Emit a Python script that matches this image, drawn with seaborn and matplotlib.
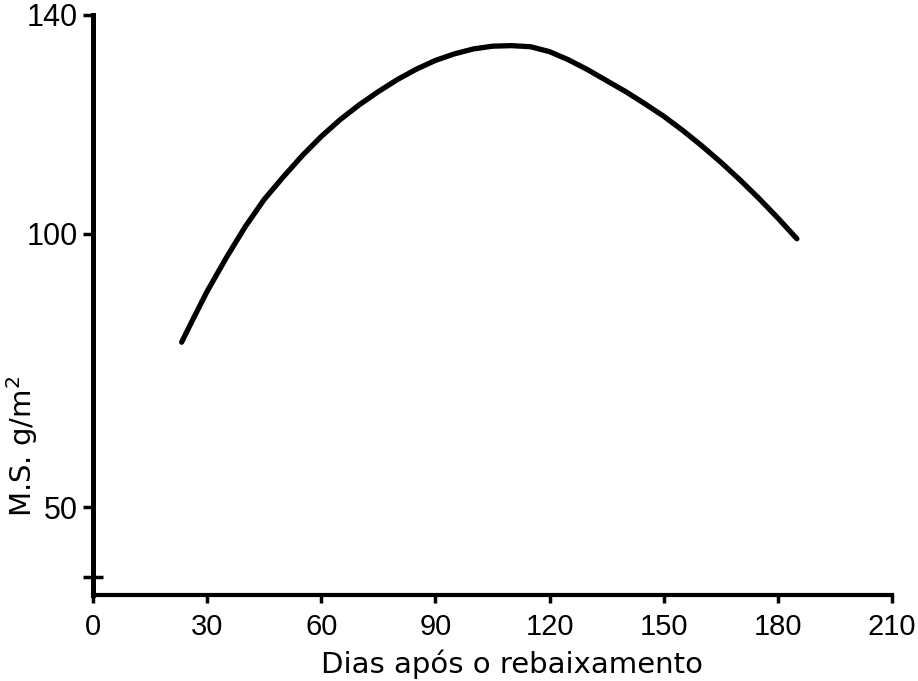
import matplotlib
matplotlib.use("Agg")
import matplotlib.pyplot as plt
import seaborn as sns
import pandas as pd

# Data
dias = [23.3, 26, 30, 35, 40, 45, 50, 55, 60, 65, 70, 75, 80, 85, 90, 95, 100, 105,
        110, 115, 120, 125, 130, 135, 140, 145, 150, 155, 160, 165, 170, 175, 180, 185]
ms = [80.2, 84.0, 89.5, 95.6, 101.3, 106.3, 110.4, 114.3, 117.8, 120.9, 123.6, 126.0,
      128.2, 130.1, 131.7, 132.9, 133.8, 134.3, 134.4, 134.2, 133.3, 131.8, 130.0,
      128.0, 126.0, 123.8, 121.5, 118.9, 116.1, 113.1, 109.9, 106.5, 102.9, 99.1]
x_ticks = [0, 30, 60, 90, 120, 150, 180, 210]
y_ticks = [50, 100, 140]

sns.set_theme(style="white")
plt.rcParams['font.family'] = ['Liberation Sans', 'DejaVu Sans']

df = pd.DataFrame({"dias": dias, "ms": ms})

fig = plt.figure(figsize=(9.18, 6.81), dpi=100)
ax = fig.add_axes([93/918, 1-595/681, (892-93)/918, (595-15)/681])

sns.lineplot(data=df, x="dias", y="ms", ax=ax, color="black", linewidth=3.8,
             solid_capstyle="round", solid_joinstyle="round")

ax.set_xlim(0, 210)
ax.set_ylim(34, 140)
ax.set_xticks(x_ticks)
ax.set_yticks(y_ticks)
ax.set_xticklabels([str(v) for v in x_ticks])
ax.set_yticklabels([str(v) for v in y_ticks])
ax.set_yticks([37.2], minor=True)

for s in ["top", "right"]:
    ax.spines[s].set_visible(False)
ax.spines["left"].set_linewidth(3.6)
ax.spines["bottom"].set_linewidth(3.0)
ax.spines["left"].set_color("black")
ax.spines["bottom"].set_color("black")

ax.tick_params(axis="y", which="major", direction="out", length=7, width=2.5,
               colors="black", labelsize=22, pad=4, left=True)
ax.tick_params(axis="y", which="minor", direction="inout", length=14, width=2.5,
               colors="black", left=True)
ax.tick_params(axis="x", which="major", direction="out", length=6, width=2.5,
               colors="black", labelsize=21, pad=7, bottom=True)

ax.set_xlabel("Dias após o rebaixamento", fontsize=21, family="DejaVu Sans",
              color="black")
ax.xaxis.set_label_coords(0.524, -0.094)
ax.set_ylabel("M.S. g/m$^2$", fontsize=21, family="DejaVu Sans", color="black")
ax.yaxis.set_label_coords(-0.066, 0.257)

ax.grid(False)
fig.savefig("out.png", dpi=100, facecolor="white")
